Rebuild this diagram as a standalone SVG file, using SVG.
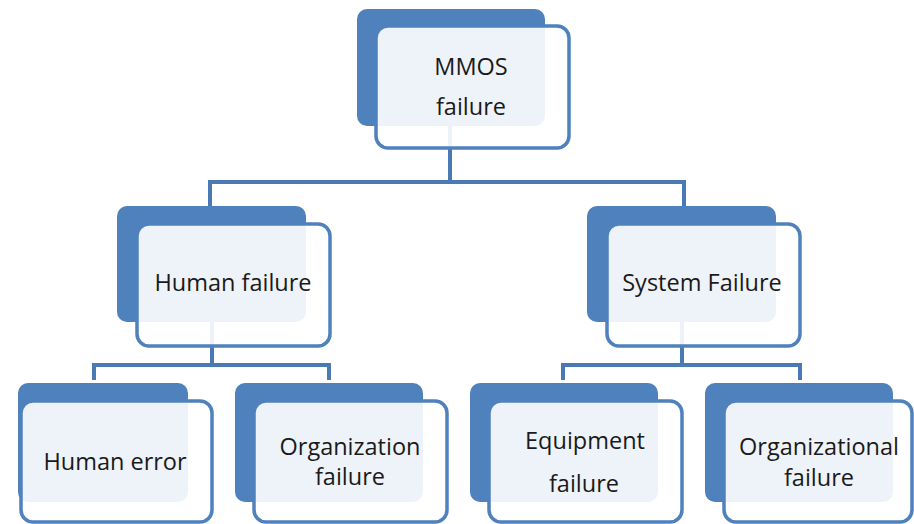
<svg xmlns="http://www.w3.org/2000/svg" width="914" height="524" viewBox="0 0 914 524">
<style>
.back{fill:#4f81bd;}
.front{fill:#ffffff;fill-opacity:0.9;stroke:#4f81bd;stroke-width:3.5;}
.conn{fill:none;stroke:#4a7ab5;stroke-width:4;}
text{font-family:"Open Sans","Liberation Sans",sans-serif;font-size:23.5px;fill:#1a1a1a;text-anchor:middle;}
</style>
<rect width="914" height="524" fill="#ffffff"/>
<g id="connectors">
<path class="conn" d="M450,126 V182 M210,207 V182 H684 V207"/>
<path class="conn" d="M212,322 V365 M94,380 V365 H329 V380"/>
<path class="conn" d="M682,322 V365 M563,380 V365 H800 V380"/>
</g>
<g id="mmos">
<rect class="back" x="357" y="9" width="188" height="117" rx="10"/>
<rect class="front" x="376" y="26" width="193" height="122" rx="12"/>
<text x="471" y="75">MMOS</text>
<text x="471" y="115">failure</text>
</g>
<g id="human-failure">
<rect class="back" x="117" y="206" width="189" height="116" rx="10"/>
<rect class="front" x="137" y="224" width="193" height="122" rx="12"/>
<text x="233" y="291">Human failure</text>
</g>
<g id="system-failure">
<rect class="back" x="587" y="206" width="189" height="116" rx="10"/>
<rect class="front" x="607" y="224" width="193" height="122" rx="12"/>
<text x="702" y="291">System Failure</text>
</g>
<g id="human-error">
<rect class="back" x="18" y="383" width="170" height="119" rx="10"/>
<rect class="front" x="21" y="401" width="191" height="121" rx="12"/>
<text x="115" y="470">Human error</text>
</g>
<g id="organization-failure">
<rect class="back" x="235" y="383" width="188" height="119" rx="10"/>
<rect class="front" x="254" y="401" width="193" height="121" rx="12"/>
<text x="350" y="455">Organization</text>
<text x="350" y="485">failure</text>
</g>
<g id="equipment-failure">
<rect class="back" x="470" y="383" width="188" height="119" rx="10"/>
<rect class="front" x="489" y="401" width="193" height="121" rx="12"/>
<text x="585" y="449">Equipment</text>
<text x="584" y="492">failure</text>
</g>
<g id="organizational-failure">
<rect class="back" x="705" y="383" width="188" height="119" rx="10"/>
<rect class="front" x="724" y="401" width="188" height="121" rx="12"/>
<text x="819" y="455">Organizational</text>
<text x="819" y="486">failure</text>
</g>
</svg>
